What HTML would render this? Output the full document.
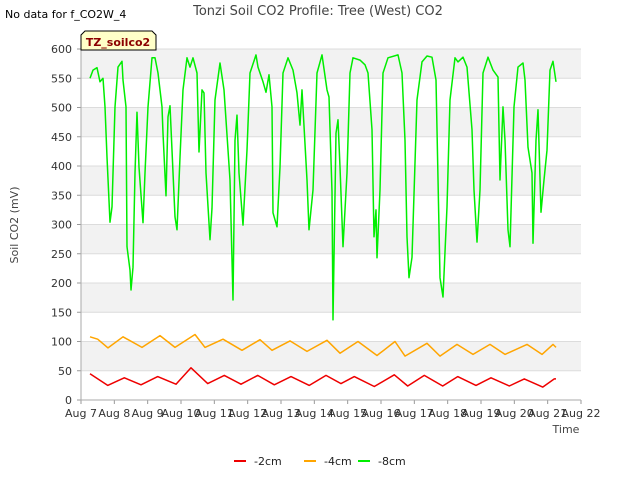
<!DOCTYPE html>
<html><head><meta charset="utf-8"><style>
body{margin:0;background:#fff;font-family:"DejaVu Sans","Liberation Sans",sans-serif}
svg text{font-family:"DejaVu Sans","Liberation Sans",sans-serif}
</style></head><body>
<svg id="chart" width="640" height="480" xmlns="http://www.w3.org/2000/svg">
<rect width="640" height="480" fill="#fff"/>
<g id="bands"></g><g id="grid"></g><g id="axes"></g><g id="series"></g>
<text x="318" y="15" font-size="13" fill="#444" text-anchor="middle">Tonzi Soil CO2 Profile: Tree (West) CO2</text>
<text x="5" y="18" font-size="11" fill="#000">No data for f_CO2W_4</text>
<g>
<path d="M81,50 L81,35 L85,31 L152,31 L156,35 L156,50 Z" fill="#ffffc8" stroke="#000" stroke-width="1"/>
<text x="118" y="46" font-size="11" font-weight="bold" fill="#8b0000" text-anchor="middle">TZ_soilco2</text>
</g>
<text transform="translate(18,225) rotate(-90)" font-size="11" fill="#444" text-anchor="middle">Soil CO2 (mV)</text>
<text x="566" y="433" font-size="11" fill="#444" text-anchor="middle">Time</text>
<g>
<g><line x1="234" y1="461" x2="246" y2="461" stroke="#e00" stroke-width="2"/><text x="254" y="465" font-size="11" fill="#222">-2cm</text></g>
<g><line x1="304" y1="461" x2="316" y2="461" stroke="#ffa500" stroke-width="2"/><text x="324" y="465" font-size="11" fill="#222">-4cm</text></g>
<g><line x1="358" y1="461" x2="370" y2="461" stroke="#00ee00" stroke-width="2"/><text x="378" y="465" font-size="11" fill="#222">-8cm</text></g>
</g>
</svg>
<script>
const xTickLabels=["Aug 7","Aug 8","Aug 9","Aug 10","Aug 11","Aug 12","Aug 13","Aug 14","Aug 15","Aug 16","Aug 17","Aug 18","Aug 19","Aug 20","Aug 21","Aug 22"];
const yTicks=[0,50,100,150,200,250,300,350,400,450,500,550,600];
const greenDays=[0.27,0.36,0.48,0.57,0.66,0.72,0.78,0.87,0.93,1.02,1.11,1.23,1.26,1.35,1.38,1.47,1.50,1.56,1.62,1.68,1.74,1.86,1.92,2.01,2.13,2.22,2.31,2.43,2.46,2.55,2.61,2.67,2.82,2.88,2.97,3.06,3.18,3.27,3.36,3.48,3.54,3.63,3.69,3.75,3.87,3.93,4.02,4.17,4.29,4.47,4.56,4.62,4.68,4.74,4.86,4.98,5.07,5.25,5.31,5.46,5.55,5.64,5.73,5.76,5.88,5.97,6.06,6.21,6.36,6.48,6.57,6.63,6.78,6.84,6.96,7.08,7.23,7.38,7.44,7.53,7.56,7.65,7.71,7.77,7.86,7.98,8.07,8.16,8.37,8.52,8.61,8.73,8.79,8.85,8.88,8.97,9.06,9.21,9.51,9.63,9.72,9.78,9.84,9.93,10.08,10.23,10.38,10.53,10.65,10.77,10.86,10.98,11.07,11.22,11.31,11.46,11.58,11.73,11.79,11.88,11.97,12.06,12.21,12.36,12.51,12.57,12.66,12.72,12.81,12.87,12.99,13.11,13.26,13.32,13.41,13.53,13.56,13.65,13.71,13.80,13.89,13.98,14.07,14.16,14.25];
const greenValues=[550,564,568,544,550,501,415,304,330,501,569,579,547,501,262,222,188,227,388,492,398,303,388,501,585,585,559,501,456,349,484,503,313,291,415,530,585,569,585,559,424,530,525,388,274,328,513,576,530,376,171,444,487,388,299,427,559,590,569,544,526,556,501,320,296,398,559,585,564,525,470,530,376,291,359,559,590,530,518,356,137,456,479,398,262,388,559,585,581,573,559,462,279,325,243,359,559,585,590,559,444,279,209,244,513,578,588,586,547,209,176,330,513,585,578,586,569,462,359,270,359,559,586,564,552,376,501,444,291,262,501,569,576,547,432,388,268,444,496,321,376,427,564,579,544];
const orangeDays=[0.27,0.5,0.81,1.26,1.83,2.37,2.82,3.42,3.72,4.26,4.83,5.37,5.73,6.27,6.78,7.38,7.77,8.31,8.88,9.42,9.72,10.38,10.77,11.28,11.76,12.27,12.72,13.38,13.83,14.16,14.25];
const orangeValues=[108,104,89,108,90,110,90,112,90,104,85,103,85,101,83,102,80,100,76,100,75,97,75,95,78,95,78,95,78,95,90];
const redDays=[0.27,0.8,1.3,1.8,2.3,2.85,3.3,3.8,4.3,4.8,5.3,5.8,6.3,6.85,7.35,7.8,8.2,8.8,9.4,9.8,10.3,10.85,11.3,11.85,12.3,12.85,13.3,13.85,14.2,14.25];
const redValues=[45,25,38,26,40,27,55,28,42,27,42,26,40,25,42,28,40,23,43,24,42,24,40,25,38,24,36,22,36,36];
const NS='http://www.w3.org/2000/svg';
const X0=81,X1=581,Y0=400,Y1=49;
const xs=d=>X0+(X1-X0)*d/15;
const ys=v=>Y0-(Y0-Y1)*v/600;
function mk(tag,attrs,parent){const e=document.createElementNS(NS,tag);for(const k in attrs)e.setAttribute(k,attrs[k]);document.getElementById(parent).appendChild(e);return e;}
for(let i=0;i<yTicks.length-1;i++){
  if(i%2===1){const r=mk('rect',{x:X0,y:ys(yTicks[i+1]),width:X1-X0,height:ys(yTicks[i])-ys(yTicks[i+1]),fill:'#f2f2f2'},'bands');
  
  }
}
yTicks.forEach(v=>{
  const l=mk('line',{x1:X0,x2:X1,y1:ys(v),y2:ys(v),stroke:'#dcdcdc','stroke-width':1},'grid');
  
  
  const t=mk('line',{x1:X0-4,x2:X0,y1:ys(v),y2:ys(v),stroke:'#999'},'axes');
  
  
  const tx=mk('text',{x:X0-9,y:ys(v)+4,'font-size':11,fill:'#333','text-anchor':'end'},'axes');
  tx.textContent=v;
  
  
});
xTickLabels.forEach((s,i)=>{
  const t=mk('line',{x1:xs(i),x2:xs(i),y1:Y0,y2:Y0+4,stroke:'#999'},'axes');
  
  
  const tx=mk('text',{x:xs(i),y:Y0+17,'font-size':11,fill:'#333','text-anchor':'middle'},'axes');
  tx.textContent=s;
  
  
});
const ax=mk('path',{d:`M${X0},${Y1} L${X0},${Y0} L${X1},${Y0}`,stroke:'#aaa',fill:'none'},'axes');


function line(days,vals,color,name){
  const p=mk('polyline',{points:days.map((d,i)=>xs(d).toFixed(1)+','+ys(vals[i]).toFixed(1)).join(' '),fill:'none',stroke:color,'stroke-width':1.5,'stroke-linejoin':'round'},'series');
  
  
}
line(redDays,redValues,'#e00','series-2cm');
line(orangeDays,orangeValues,'#ffa500','series-4cm');
line(greenDays,greenValues,'#00ee00','series-8cm');
</script>
</body></html>
